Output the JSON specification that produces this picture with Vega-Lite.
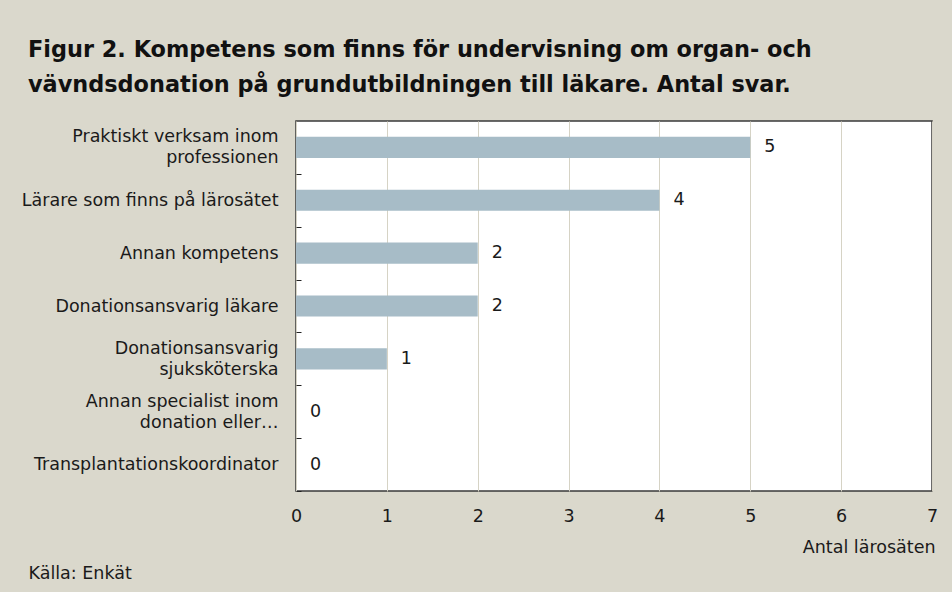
{
  "$schema": "https://vega.github.io/schema/vega-lite/v6.json",
  "width": 636,
  "height": 370,
  "autosize": {"type": "none"},
  "padding": {"left": 296, "top": 121, "right": 20, "bottom": 101},
  "background": "#dad8cc",
  "title": {
    "text": ["Figur 2. Kompetens som finns för undervisning om organ- och", "vävndsdonation på grundutbildningen till läkare. Antal svar."],
    "anchor": "start",
    "frame": "group",
    "dx": -268,
    "font": "DejaVu Sans",
    "fontSize": 22.4,
    "fontWeight": "bold",
    "color": "#111111",
    "lineHeight": 34.5,
    "offset": 25
  },
  "config": {
    "view": {"fill": "white", "stroke": "#3a3a3a", "strokeWidth": 1.5},
    "font": "DejaVu Sans",
    "axis": {"labelFont": "DejaVu Sans", "titleFont": "DejaVu Sans", "labelColor": "#1a1a1a", "titleColor": "#1a1a1a", "labelFontSize": 17.5, "titleFontSize": 17.5, "titleFontWeight": "normal"}
  },
  "data": {
    "values": [
      {"kategori": "Praktiskt verksam inom|professionen", "antal": 5},
      {"kategori": "Lärare som finns på lärosätet", "antal": 4},
      {"kategori": "Annan kompetens", "antal": 2},
      {"kategori": "Donationsansvarig läkare", "antal": 2},
      {"kategori": "Donationsansvarig|sjuksköterska", "antal": 1},
      {"kategori": "Annan specialist inom|donation eller…", "antal": 0},
      {"kategori": "Transplantationskoordinator", "antal": 0}
    ]
  },
  "encoding": {
    "y": {
      "field": "kategori",
      "type": "nominal",
      "sort": null,
      "scale": {"paddingInner": 0.6, "paddingOuter": 0.3},
      "axis": {
        "title": "Källa: Enkät",
        "titleAngle": 0,
        "titleX": -268,
        "titleY": 457,
        "titleAlign": "left",
        "titleBaseline": "alphabetic",
        "labelExpr": "split(datum.label, '|')",
        "labelLineHeight": 21,
        "labelPadding": 23,
        "labelLimit": 320,
        "tickOffset": 26.43,
        "labelOffset": {"condition": {"test": "indexof(datum.value, '|') >= 0", "value": -36.9}, "value": -26.43},
        "tickSize": -5,
        "tickColor": "#222222",
        "tickWidth": 1,
        "domain": false,
        "grid": false
      }
    },
    "x": {
      "field": "antal",
      "type": "quantitative",
      "scale": {"domain": [0, 7], "nice": false},
      "axis": {
        "title": "Antal lärosäten",
        "titleX": 639,
        "titleY": 61,
        "titleAlign": "right",
        "titleBaseline": "alphabetic",
        "values": [0, 1, 2, 3, 4, 5, 6, 7],
        "format": "d",
        "ticks": false,
        "domain": false,
        "labelPadding": 16,
        "labelFlush": false,
        "grid": true,
        "gridColor": "#d6d3c5",
        "gridWidth": 1,
        "gridOpacity": 1
      }
    }
  },
  "layer": [
    {"mark": {"type": "bar", "color": "#a7bcc7"}},
    {
      "mark": {"type": "text", "align": "left", "baseline": "middle", "dx": 14, "fontSize": 17.5, "font": "DejaVu Sans", "color": "#1a1a1a"},
      "encoding": {"text": {"field": "antal", "type": "quantitative"}}
    }
  ]
}
